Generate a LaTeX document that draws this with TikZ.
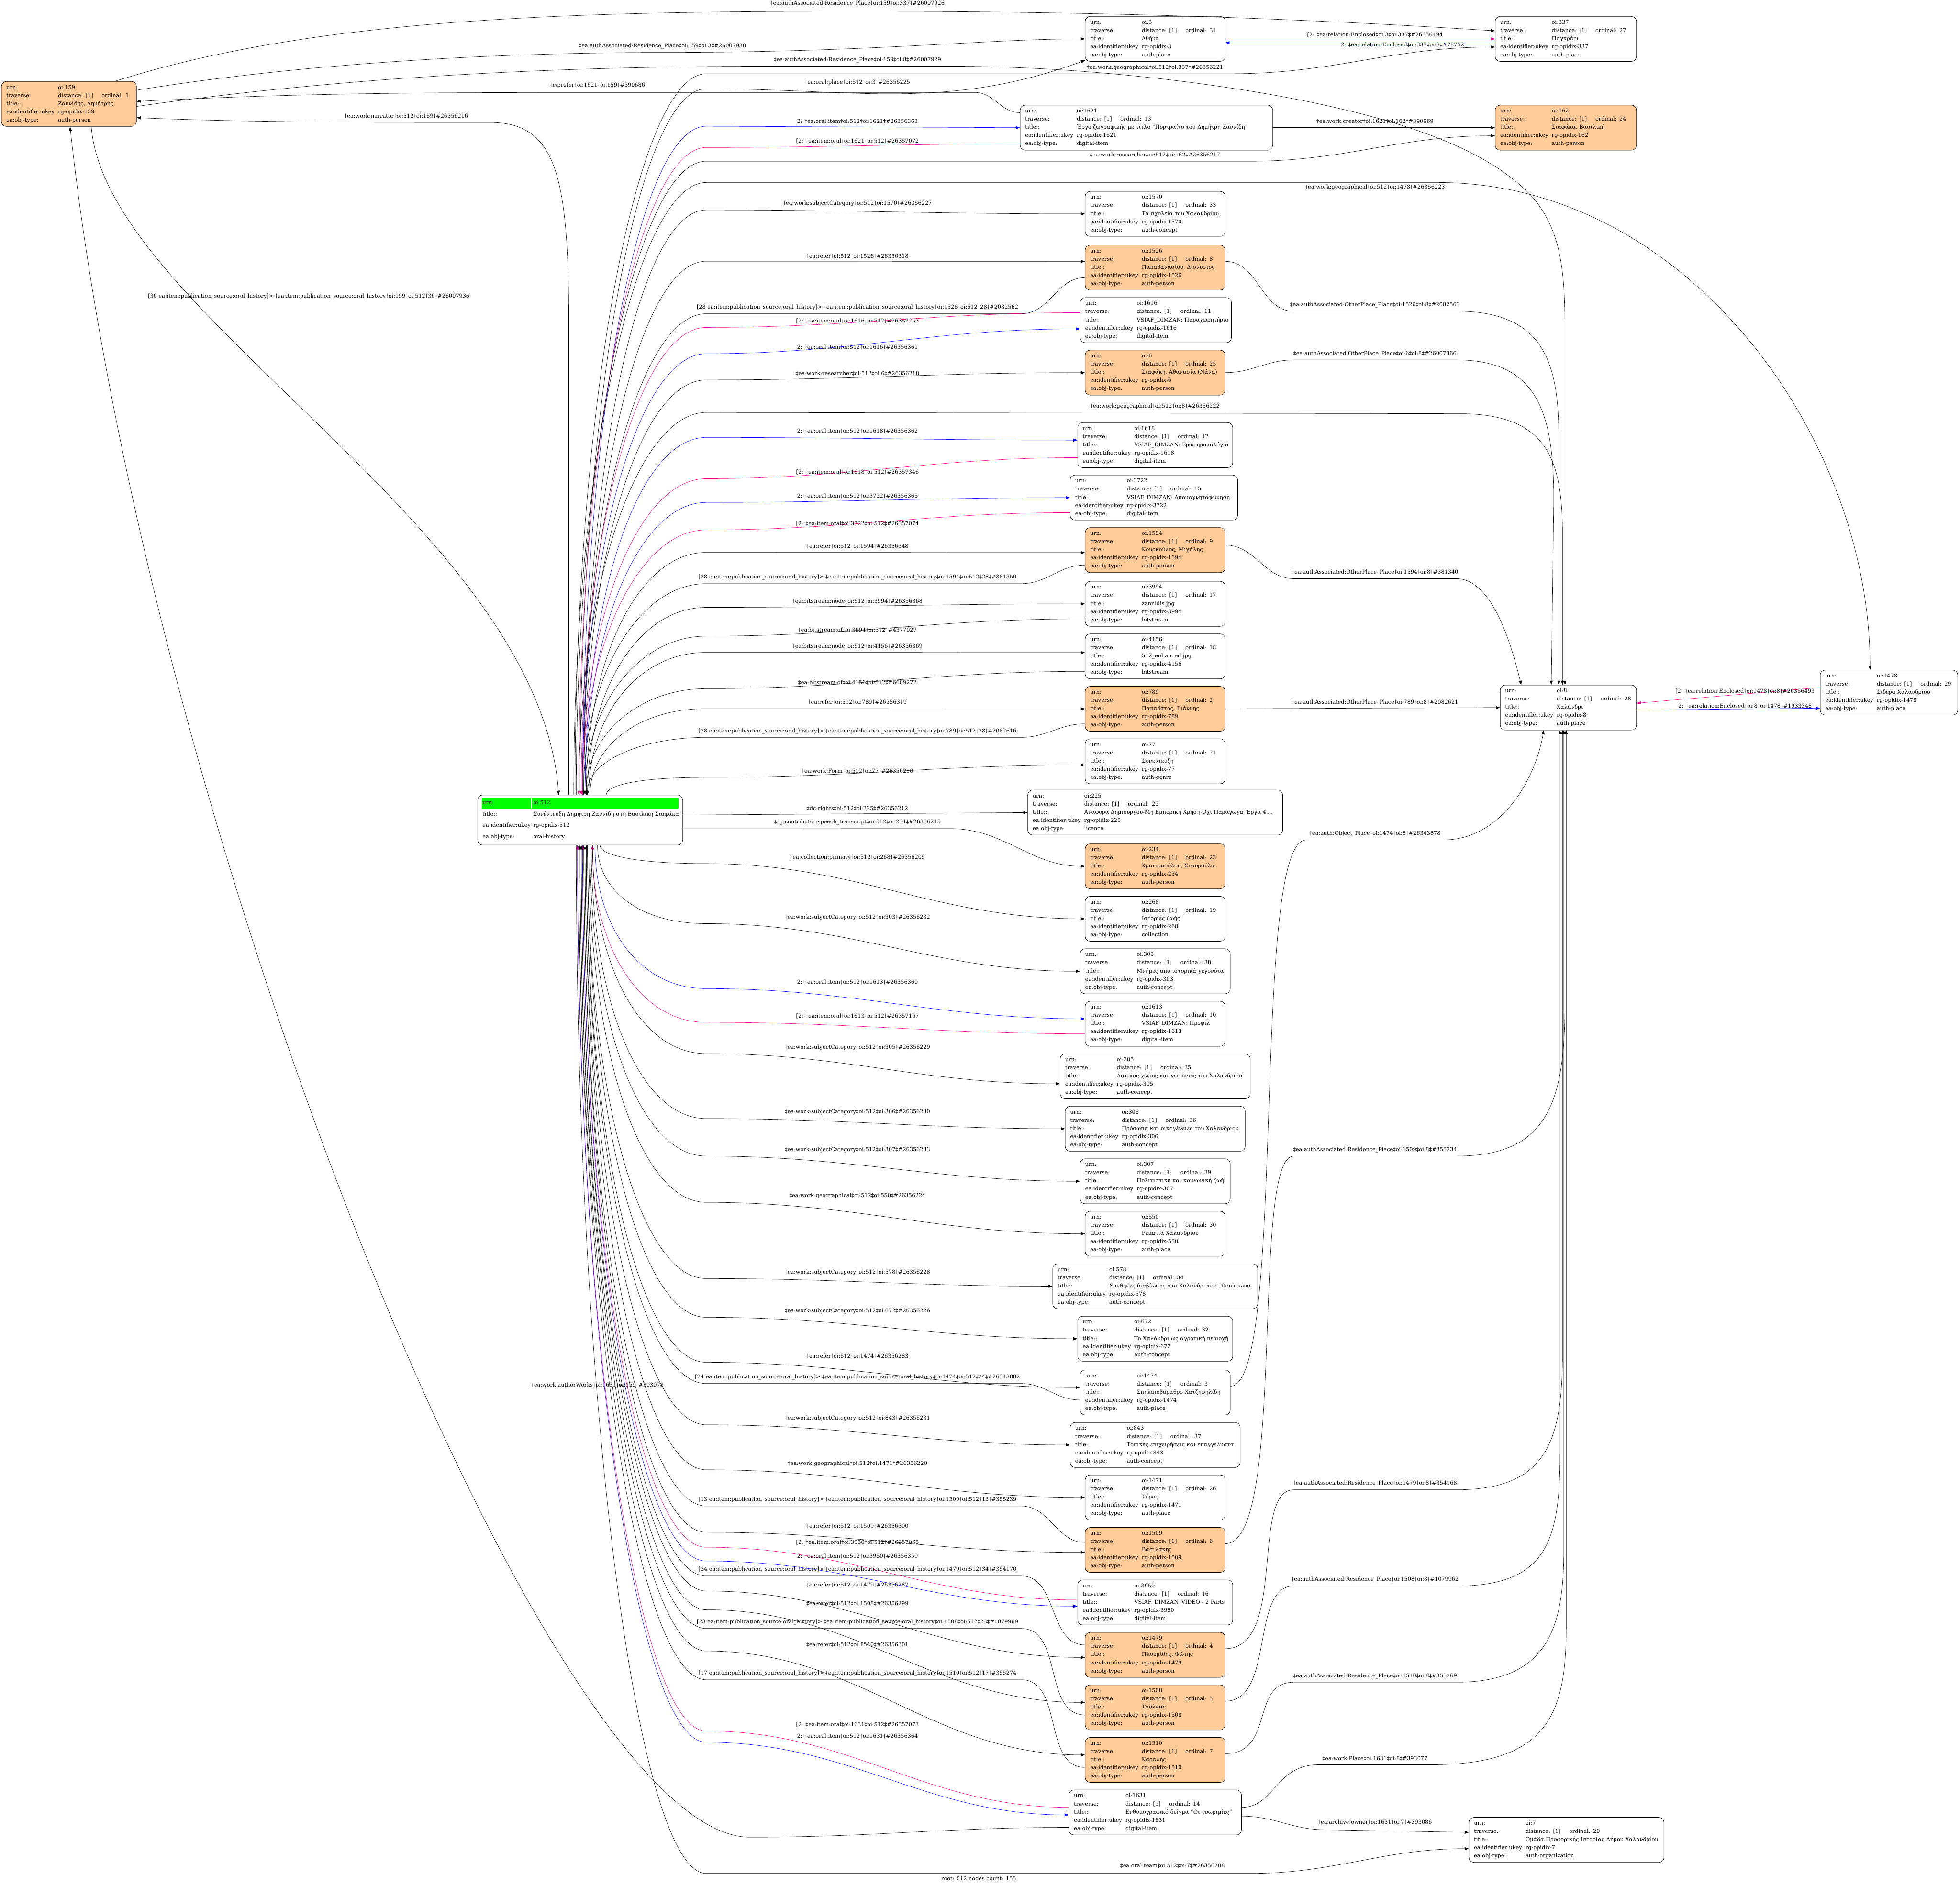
\documentclass[tikz,border=0pt]{standalone}
\usepackage{fontspec}
\setmainfont{DejaVu Serif}
\usetikzlibrary{arrows.meta,calc}
\definecolor{peach}{RGB}{255,204,153}
\newlength\cA \setlength\cA{4.375cm}
\newlength\cB \setlength\cB{3.7cm}
\newlength\cC \setlength\cC{4.3cm}
\newcommand\nrec[4]{\mbox{\makebox[\cA][l]{urn:}oi:#1}\\\mbox{\makebox[\cA][l]{traverse:}\makebox[\cB][l]{distance: [1]}ordinal: #2}\\\mbox{\makebox[\cA][l]{title::}#3}\\\mbox{\makebox[\cA][l]{ea:identifier:ukey}rg-opidix-#1}\\\mbox{\makebox[\cA][l]{ea:obj-type:}#4}}
\newcommand\Nd[6]{\node[box,#5,minimum width={#4*0.106cm},text width={#4*0.106cm-0.85cm}] (#1) at (#2,#3) {#6};}
\newcommand\Up[4]{\draw[#1] ($(n512.north west)+({#2-382},0)$) .. controls +(0,{-0.55*(636-#3)}) and +(-55,0) .. (565,#3) #4;}
\newcommand\Dn[4]{\draw[#1] ($(n512.south west)+({#2-382},0)$) .. controls +(0,{0.55*(#3-676)}) and +(-55,0) .. (565,#3) #4;}
\newcommand\Lb[4]{\node[lbl] (#1) at (#2,#3) {#4};}
\newcommand\OH[3]{[#1 ea:item:publication\_source:oral\_history]> ‡ea:item:publication\_source:oral\_history‡oi:#2‡oi:512‡#1‡\##3}
\tikzset{
 box/.style={draw, rounded corners=0.42cm, anchor=north west, inner xsep=0.425cm, inner ysep=0.05cm, align=left, font=\fontsize{13}{19.7}\selectfont, line width=0.9pt, fill=white, minimum height={36*0.106cm}},
 pers/.style={fill=peach},
 lbl/.style={font=\fontsize{13}{14}\selectfont, inner sep=0pt},
 ed/.style={line width=0.8pt},
 fwd/.style={ed,-{Triangle[length=0.35cm,width=0.25cm]}},
 rev/.style={ed,{Triangle[length=0.35cm,width=0.25cm]}-},
 blu/.style={draw=blue},
 mag/.style={draw=magenta},
}
\begin{document}
\begin{tikzpicture}[x=0.106cm,y=-0.106cm]
\fill[white] (0,0) rectangle (1568,1509);
\useasboundingbox (0,0) rectangle (1568,1509);
% ---------- nodes ----------
\Nd{n159}{1}{65}{108}{pers}{\nrec{159}{1}{Ζαννίδης, Δημήτρης}{auth-person}}
\Nd{n3}{868}{13}{112}{}{\nrec{3}{31}{Αθήνα}{auth-place}}
\Nd{n337}{1196}{13}{113}{}{\nrec{337}{27}{Παγκράτι}{auth-place}}
\Nd{n1621}{816}{84}{202}{}{\nrec{1621}{13}{Έργο ζωγραφικής με τίτλο "Πορτραίτο του Δημήτρη Ζαννίδη"}{digital-item}}
\Nd{n162}{1196}{84}{113}{pers}{\nrec{162}{24}{Σιαφάκα, Βασιλική}{auth-person}}
\Nd{n1570}{868}{153}{112}{}{\nrec{1570}{33}{Τα σχολεία του Χαλανδρίου}{auth-concept}}
\Nd{n1526}{868}{196}{112}{pers}{\nrec{1526}{8}{Παπαθανασίου, Διονύσιος}{auth-person}}
\Nd{n1616}{864}{238}{121}{}{\nrec{1616}{11}{VSIAF\_DIMZAN: Παραχωρητήριο}{digital-item}}
\Nd{n6}{868}{280}{112}{pers}{\nrec{6}{25}{Σιαφάκη, Αθανασία (Νάνα)}{auth-person}}
\Nd{n1618}{862}{338}{124}{}{\nrec{1618}{12}{VSIAF\_DIMZAN: Ερωτηματολόγιο}{digital-item}}
\Nd{n3722}{856}{380}{134}{}{\nrec{3722}{15}{VSIAF\_DIMZAN: Απομαγνητοφώνηση}{digital-item}}
\Nd{n1594}{868}{422}{112}{pers}{\nrec{1594}{9}{Κουρκούλος, Μιχάλης}{auth-person}}
\Nd{n3994}{868}{465}{112}{}{\nrec{3994}{17}{zannidis.jpg}{bitstream}}
\Nd{n4156}{868}{507}{112}{}{\nrec{4156}{18}{512\_enhanced.jpg}{bitstream}}
\Nd{n789}{868}{549}{112}{pers}{\nrec{789}{2}{Παπαδάτος, Γιάννης}{auth-person}}
\Nd{n77}{868}{591}{112}{}{\nrec{77}{21}{Συνέντευξη}{auth-genre}}
\Nd{n225}{822}{632}{204}{}{\nrec{225}{22}{Αναφορά Δημιουργού-Μη Εμπορική Χρήση-Όχι Παράγωγα \char"27Εργα 4....}{licence}}
\Nd{n234}{868}{675}{112}{pers}{\nrec{234}{23}{Χριστοπούλου, Σταυρούλα}{auth-person}}
\Nd{n268}{868}{717}{112}{}{\nrec{268}{19}{Ιστορίες ζωής}{collection}}
\Nd{n303}{864}{759}{120}{}{\nrec{303}{38}{Μνήμες από ιστορικά γεγονότα}{auth-concept}}
\Nd{n1613}{868}{801}{112}{}{\nrec{1613}{10}{VSIAF\_DIMZAN: Προφίλ}{digital-item}}
\Nd{n305}{848}{843}{152}{}{\nrec{305}{35}{Αστικός χώρος και γειτονιές του Χαλανδρίου}{auth-concept}}
\Nd{n306}{852}{885}{144}{}{\nrec{306}{36}{Πρόσωπα και οικογένειες του Χαλανδρίου}{auth-concept}}
\Nd{n307}{864}{927}{120}{}{\nrec{307}{39}{Πολιτιστική και κοινωνική ζωή}{auth-concept}}
\Nd{n550}{868}{969}{112}{}{\nrec{550}{30}{Ρεματιά Χαλανδρίου}{auth-place}}
\Nd{n578}{842}{1011}{164}{}{\nrec{578}{34}{Συνθήκες διαβίωσης στο Χαλάνδρι του 20ου αιώνα}{auth-concept}}
\Nd{n672}{862}{1053}{124}{}{\nrec{672}{32}{Το Χαλάνδρι ως αγροτική περιοχή}{auth-concept}}
\Nd{n1474}{864}{1096}{120}{}{\nrec{1474}{3}{Σπηλαιοβάραθρο Χατζηφηλίδη}{auth-place}}
\Nd{n843}{856}{1138}{136}{}{\nrec{843}{37}{Τοπικές επιχειρήσεις και επαγγέλματα}{auth-concept}}
\Nd{n1471}{868}{1180}{112}{}{\nrec{1471}{26}{Σύρος}{auth-place}}
\Nd{n1509}{868}{1222}{112}{pers}{\nrec{1509}{6}{Βασιλάκης}{auth-person}}
\Nd{n3950}{862}{1264}{124}{}{\nrec{3950}{16}{VSIAF\_DIMZAN\_VIDEO - 2 Parts}{digital-item}}
\Nd{n1479}{868}{1306}{112}{pers}{\nrec{1479}{4}{Πλουμίδης, Φώτης}{auth-person}}
\Nd{n1508}{868}{1348}{112}{pers}{\nrec{1508}{5}{Τσόλκας}{auth-person}}
\Nd{n1510}{868}{1390}{112}{pers}{\nrec{1510}{7}{Καραλής}{auth-person}}
\Nd{n1631}{855}{1432}{138}{}{\nrec{1631}{14}{Ενθυμογραφικό δείγμα "Οι γνωριμίες"}{digital-item}}
\Nd{n7}{1175}{1454}{156}{}{\nrec{7}{20}{Ομάδα Προφορικής Ιστορίας Δήμου Χαλανδρίου}{auth-organization}}
\Nd{n8}{1200}{548}{109}{}{\nrec{8}{28}{Χαλάνδρι}{auth-place}}
\Nd{n1478}{1456}{536}{110}{}{\nrec{1478}{29}{Σίδερα Χαλανδρίου}{auth-place}}
\fill[green] (385.3,638.7) rectangle (425,647);
\fill[green] (425.7,638.7) rectangle (543,647);
\node[box, fill=none, font=\fontsize{13}{27}\selectfont, inner xsep=0.41cm, minimum width={164*0.106cm}, text width={164*0.106cm-0.82cm}, minimum height={40*0.106cm}] (n512) at (382,636) {\mbox{\makebox[\cC][l]{urn:}oi:512}\\\mbox{\makebox[\cC][l]{title::}Συνέντευξη Δημήτρη Ζαννίδη στη Βασιλική Σιαφάκα}\\\mbox{\makebox[\cC][l]{ea:identifier:ukey}rg-opidix-512}\\\mbox{\makebox[\cC][l]{ea:obj-type:}oral-history}};
\node[font=\fontsize{13}{14}\selectfont, inner sep=0pt] (foot) at (783,1503) {root: 512 nodes count: 155};
% ---------- edges around oi:159 ----------
\draw[fwd] ($(n159.north west)+(91,0)$) .. controls (250,15) and (450,9) .. (686,9) .. controls (950,9) and (1120,20) .. ($(n337.west)+(0,-6.5)$);
\Lb{l1}{686}{3}{‡ea:authAssociated:Residence\_Place‡oi:159‡oi:337‡\#26007926}
\draw[fwd] ($(n159.east)+(0,-11)$) .. controls (260,48) and (420,42) .. (530,42) .. controls (700,42) and (790,31) .. (n3.west);
\Lb{l2}{530}{37}{‡ea:authAssociated:Residence\_Place‡oi:159‡oi:3‡\#26007930}
\draw[rev] ($(n159.east)+(0,-2)$) .. controls (250,74) and (350,74) .. (478,74) -- (780,74) to[out=0,in=180] ($(n1621.west)+(0,-12)$);
\Lb{l3}{478}{68}{‡ea:refer‡oi:1621‡oi:159‡\#390686}
\draw[fwd] ($(n159.east)+(0,2)$) .. controls (300,58) and (480,53) .. (618,53) -- (760,53) .. controls (880,53) and (990,70) .. (1040,80) .. controls (1130,98) and (1195,122) .. (1228,160) .. controls (1250,188) and (1252,220) .. (1252,270) -- ($(n8.north west)+(52,0)$);
\Lb{l4}{686}{48}{‡ea:authAssociated:Residence\_Place‡oi:159‡oi:8‡\#26007929}
\draw[rev] ($(n159.east)+(0,11)$) .. controls (200,98) and (300,98) .. (392,98) .. controls (445,98) and (455,140) .. (455,260) -- ($(n512.north west)+(73,0)$);
\Lb{l5}{325}{93}{‡ea:work:narrator‡oi:512‡oi:159‡\#26356216}
\draw[fwd] ($(n159.south west)+(72,0)$) .. controls (85,250) and (430,420) .. ($(n512.north west)+(65,0)$);
\Lb{l6}{247}{237}{\OH{36}{159}{26007936}}
\draw[rev] ($(n159.south west)+(55,0)$) .. controls (120,680) and (440,1470) .. (600,1470) to[out=0,in=180] ($(n1631.west)+(0,12)$);
\Lb{l7}{478}{1108}{‡ea:work:authorWorks‡oi:1631‡oi:159‡\#393078}
% ---------- edges above oi:512 ----------
\Up{fwd}{460}{59}{-- (985,59) to[out=0,in=180] ($(n337.west)+(0,6.5)$)}
\Lb{l9}{924}{54}{‡ea:work:geographical‡oi:512‡oi:337‡\#26356221}
\Up{fwd}{464}{71}{to[out=0,in=200] ($(n3.south west)+(0,-1)$)}
\Lb{l10}{686}{66}{‡ea:oral:place‡oi:512‡oi:3‡\#26356225}
\Up{blu,fwd}{466}{101}{-- (n1621.west)}
\Lb{l11}{686}{97}{2: ‡ea:oral:item‡oi:512‡oi:1621‡\#26356363}
\Up{mag,rev}{463}{118}{to[out=0,in=180] ($(n1621.west)+(0,13)$)}
\Lb{l12}{686}{113}{[2: ‡ea:item:oral‡oi:1621‡oi:512‡\#26357072}
\Up{fwd}{461}{129}{-- (1000,129) to[out=0,in=180] ($(n162.west)+(0,6.5)$)}
\Lb{l13}{924}{124}{‡ea:work:researcher‡oi:512‡oi:162‡\#26356217}
\draw[fwd] (n1621.east) -- (n162.west);
\Lb{l14}{1100}{97}{‡ea:work:creator‡oi:1621‡oi:162‡\#390669}
\draw[mag,fwd] (n3.east) -- (n337.west);
\Lb{l15}{1100}{28}{[2: ‡ea:relation:Enclosed‡oi:3‡oi:337‡\#26356494}
\draw[blu,fwd] ($(n337.west)+(0,3)$) -- ($(n3.east)+(0,3)$);
\Lb{l16}{1122}{36}{2: ‡ea:relation:Enclosed‡oi:337‡oi:3‡\#78752}
\Up{fwd}{459}{146}{-- (1150,146) .. controls (1350,146) and (1496,350) .. ($(n1478.north west)+(40,0)$)}
\Lb{l17}{1100}{150}{‡ea:work:geographical‡oi:512‡oi:1478‡\#26356223}
\Up{fwd}{467}{168}{to[out=0,in=180] (n1570.west)}
\Lb{l18}{686}{163}{‡ea:work:subjectCategory‡oi:512‡oi:1570‡\#26356227}
\Up{fwd}{467}{209}{to[out=0,in=180] ($(n1526.west)+(0,-5)$)}
\Lb{l19}{686}{205}{‡ea:refer‡oi:512‡oi:1526‡\#26356318}
\Up{rev}{466}{251}{-- (817,251) to[out=0,in=180] ($(n1526.west)+(0,8)$)}
\Lb{l20}{686}{246}{\OH{28}{1526}{2082562}}
\Up{mag,rev}{465}{262}{to[out=0,in=180] ($(n1616.west)+(0,-6)$)}
\Lb{l22}{686}{257}{[2: ‡ea:item:oral‡oi:1616‡oi:512‡\#26357253}
\Up{blu,fwd}{466}{283}{to[out=0,in=180] ($(n1616.west)+(0,7)$)}
\Lb{l23}{686}{278}{2: ‡ea:oral:item‡oi:512‡oi:1616‡\#26356361}
\Up{fwd}{467}{304}{to[out=0,in=180] (n6.west)}
\Lb{l24}{686}{299}{‡ea:work:researcher‡oi:512‡oi:6‡\#26356218}
\Up{fwd}{463}{330}{-- (1170,331) .. controls (1240,332) and (1250,370) .. (1250,430) -- ($(n8.north west)+(50,0)$)}
\Lb{l26}{924}{325}{‡ea:work:geographical‡oi:512‡oi:8‡\#26356222}
\Up{blu,fwd}{468}{350}{to[out=0,in=180] ($(n1618.west)+(0,-4)$)}
\Lb{l27}{686}{345}{2: ‡ea:oral:item‡oi:512‡oi:1618‡\#26356362}
\Up{mag,rev}{466}{383}{to[out=0,in=180] ($(n1618.west)+(0,10)$)}
\Lb{l28}{686}{378}{[2: ‡ea:item:oral‡oi:1618‡oi:512‡\#26357346}
\Up{blu,fwd}{468}{402}{to[out=0,in=180] (n3722.west)}
\Lb{l29}{686}{397}{2: ‡ea:oral:item‡oi:512‡oi:3722‡\#26356365}
\Up{mag,rev}{466}{424}{to[out=0,in=180] ($(n3722.west)+(0,12)$)}
\Lb{l30}{686}{419}{[2: ‡ea:item:oral‡oi:3722‡oi:512‡\#26357074}
\Up{fwd}{469}{442}{to[out=0,in=180] ($(n1594.west)+(0,2)$)}
\Lb{l31}{686}{437}{‡ea:refer‡oi:512‡oi:1594‡\#26356348}
\Up{rev}{467}{467}{-- (817,467) to[out=0,in=180] ($(n1594.west)+(0,12)$)}
\Lb{l32}{686}{462}{\OH{28}{1594}{381350}}
\Up{fwd}{470}{486}{to[out=0,in=180] (n3994.west)}
\Lb{l34}{686}{481}{‡ea:bitstream:node‡oi:512‡oi:3994‡\#26356368}
\Up{rev}{468}{509}{to[out=0,in=180] ($(n3994.west)+(0,12)$)}
\Lb{l35}{686}{504}{‡ea:bitstream:of‡oi:3994‡oi:512‡\#4377027}
\Up{fwd}{471}{522}{to[out=0,in=180] ($(n4156.west)+(0,-3)$)}
\Lb{l36}{686}{517}{‡ea:bitstream:node‡oi:512‡oi:4156‡\#26356369}
\Up{rev}{469}{551}{to[out=0,in=180] ($(n4156.west)+(0,12)$)}
\Lb{l37}{686}{546}{‡ea:bitstream:of‡oi:4156‡oi:512‡\#6609272}
\Up{fwd}{472}{567}{-- (n789.west)}
\Lb{l38}{686}{562}{‡ea:refer‡oi:512‡oi:789‡\#26356319}
\Up{rev}{470}{590}{-- (817,590) to[out=0,in=180] ($(n789.west)+(0,12)$)}
\Lb{l39}{686}{585}{\OH{28}{789}{2082616}}
\Up{fwd}{485}{622}{to[out=0,in=180] ($(n77.west)+(0,3)$)}
\Lb{l41}{686}{617}{‡ea:work:Form‡oi:512‡oi:77‡\#26356210}
\draw[fwd] ($(n512.east)+(0,-4)$) -- (n225.west);
\Lb{l42}{686}{647}{‡dc:rights‡oi:512‡oi:225‡\#26356212}
\draw[fwd] ($(n512.east)+(0,7)$) -- (760,663) to[out=0,in=180] (n234.west);
\Lb{l43}{686}{658}{‡rg:contributor:speech\_transcript‡oi:512‡oi:234‡\#26356215}
% ---------- edges below oi:512 ----------
\Dn{fwd}{480}{691}{to[out=0,in=180] (n268.west)}
\Lb{l45}{686}{686}{‡ea:collection:primary‡oi:512‡oi:268‡\#26356205}
\Dn{fwd}{478}{739}{to[out=0,in=180] (n303.west)}
\Lb{l46}{686}{734}{‡ea:work:subjectCategory‡oi:512‡oi:303‡\#26356232}
\Dn{blu,fwd}{476}{791}{to[out=0,in=180] ($(n1613.west)+(0,-4)$)}
\Lb{l47}{686}{786}{2: ‡ea:oral:item‡oi:512‡oi:1613‡\#26356360}
\Dn{mag,rev}{474}{818}{to[out=0,in=180] ($(n1613.west)+(0,8)$)}
\Lb{l48}{686}{813}{[2: ‡ea:item:oral‡oi:1613‡oi:512‡\#26357167}
\Dn{fwd}{474}{843}{to[out=0,in=180] ($(n305.west)+(0,6)$)}
\Lb{l49}{686}{838}{‡ea:work:subjectCategory‡oi:512‡oi:305‡\#26356229}
\Dn{fwd}{473}{895}{to[out=0,in=180] (n306.west)}
\Lb{l50}{686}{890}{‡ea:work:subjectCategory‡oi:512‡oi:306‡\#26356230}
\Dn{fwd}{472}{925}{to[out=0,in=180] (n307.west)}
\Lb{l51}{686}{920}{‡ea:work:subjectCategory‡oi:512‡oi:307‡\#26356233}
\Dn{fwd}{471}{962}{to[out=0,in=180] (n550.west)}
\Lb{l52}{686}{957}{‡ea:work:geographical‡oi:512‡oi:550‡\#26356224}
\Dn{fwd}{470}{1023}{to[out=0,in=180] (n578.west)}
\Lb{l53}{686}{1018}{‡ea:work:subjectCategory‡oi:512‡oi:578‡\#26356228}
\Dn{fwd}{470}{1054}{to[out=0,in=180] (n672.west)}
\Lb{l54}{686}{1049}{‡ea:work:subjectCategory‡oi:512‡oi:672‡\#26356226}
\Dn{fwd}{469}{1090}{to[out=0,in=180] ($(n1474.west)+(0,-4)$)}
\Lb{l55}{686}{1085}{‡ea:refer‡oi:512‡oi:1474‡\#26356283}
\Dn{rev}{469}{1107}{-- (817,1107) to[out=0,in=180] ($(n1474.west)+(0,6)$)}
\Lb{l56}{686}{1102}{\OH{24}{1474}{26343882}}
\Dn{fwd}{468}{1140}{to[out=0,in=180] (n843.west)}
\Lb{l57}{686}{1135}{‡ea:work:subjectCategory‡oi:512‡oi:843‡\#26356231}
\Dn{fwd}{468}{1176}{to[out=0,in=180] (n1471.west)}
\Lb{l58}{686}{1171}{‡ea:work:geographical‡oi:512‡oi:1471‡\#26356220}
\Dn{rev}{467}{1205}{-- (817,1205) to[out=0,in=180] ($(n1509.west)+(0,-6)$)}
\Lb{l59}{686}{1200}{\OH{13}{1509}{355239}}
\Dn{fwd}{467}{1226}{to[out=0,in=180] ($(n1509.west)+(0,2)$)}
\Lb{l60}{686}{1221}{‡ea:refer‡oi:512‡oi:1509‡\#26356300}
\Dn{mag,rev}{466}{1238}{to[out=0,in=180] ($(n3950.west)+(0,-2)$)}
\Lb{l61}{686}{1234}{[2: ‡ea:item:oral‡oi:3950‡oi:512‡\#26357068}
\Dn{blu,fwd}{466}{1249}{to[out=0,in=180] ($(n3950.west)+(0,3)$)}
\Lb{l62}{686}{1245}{2: ‡ea:oral:item‡oi:512‡oi:3950‡\#26356359}
\Dn{rev}{465}{1261}{-- (817,1261) to[out=0,in=180] ($(n1479.west)+(0,-8)$)}
\Lb{l63}{686}{1256}{\OH{34}{1479}{354170}}
\Dn{fwd}{465}{1273}{to[out=0,in=180] ($(n1479.west)+(0,2)$)}
\Lb{l64}{686}{1268}{‡ea:refer‡oi:512‡oi:1479‡\#26356287}
\Dn{fwd}{464}{1288}{to[out=0,in=180] ($(n1508.west)+(0,-4)$)}
\Lb{l65}{686}{1283}{‡ea:refer‡oi:512‡oi:1508‡\#26356299}
\Dn{rev}{464}{1303}{-- (817,1303) to[out=0,in=180] ($(n1508.west)+(0,6)$)}
\Lb{l66}{686}{1298}{\OH{23}{1508}{1079969}}
\Dn{fwd}{463}{1321}{to[out=0,in=180] ($(n1510.west)+(0,-4)$)}
\Lb{l67}{686}{1316}{‡ea:refer‡oi:512‡oi:1510‡\#26356301}
\Dn{rev}{463}{1344}{-- (817,1344) to[out=0,in=180] ($(n1510.west)+(0,6)$)}
\Lb{l68}{686}{1339}{\OH{17}{1510}{355274}}
\Dn{mag,rev}{462}{1385}{to[out=0,in=180] ($(n1631.west)+(0,-4)$)}
\Lb{l69}{686}{1380}{[2: ‡ea:item:oral‡oi:1631‡oi:512‡\#26357073}
\Dn{blu,fwd}{462}{1394}{to[out=0,in=180] ($(n1631.west)+(0,2)$)}
\Lb{l70}{686}{1389}{2: ‡ea:oral:item‡oi:512‡oi:1631‡\#26356364}
\Dn{fwd}{461}{1499}{-- (1000,1499) to[out=0,in=180] ($(n7.west)+(0,7)$)}
\Lb{l8}{938}{1493}{‡ea:oral:team‡oi:512‡oi:7‡\#26356208}
% ---------- right side ----------
\draw[fwd] ($(n1526.east)+(0,-5)$) to[out=0,in=180] (1035,249) -- (1165,249) .. controls (1235,249) and (1247,290) .. (1247,350) -- ($(n8.north west)+(47,0)$);
\Lb{l21}{1100}{244}{‡ea:authAssociated:OtherPlace\_Place‡oi:1526‡oi:8‡\#2082563}
\draw[fwd] (n6.east) to[out=0,in=180] (1035,288) -- (1165,288) .. controls (1230,288) and (1243,330) .. (1243,400) -- ($(n8.north west)+(41,0)$);
\Lb{l25}{1100}{283}{‡ea:authAssociated:OtherPlace\_Place‡oi:6‡oi:8‡\#26007366}
\draw[fwd] ($(n1594.east)+(0,-4)$) to[out=0,in=180] (1035,463) -- (1165,463) .. controls (1195,463) and (1210,520) .. ($(n8.north west)+(17,0)$);
\Lb{l33}{1100}{458}{‡ea:authAssociated:OtherPlace\_Place‡oi:1594‡oi:8‡\#381340}
\draw[fwd] (n789.east) -- (n8.west);
\Lb{l40}{1100}{562}{‡ea:authAssociated:OtherPlace\_Place‡oi:789‡oi:8‡\#2082621}
\draw[fwd] ($(n1474.east)+(0,-5)$) .. controls (1030,1109) and (1000,672) .. (1045,672) -- (1155,672) .. controls (1200,672) and (1228,625) .. ($(n8.south west)+(35,0)$);
\Lb{l44}{1100}{667}{‡ea:auth:Object\_Place‡oi:1474‡oi:8‡\#26343878}
\draw[fwd] ($(n1509.east)+(0,-5)$) .. controls (1030,1235) and (1000,925) .. (1035,925) -- (1165,925) .. controls (1240,925) and (1252,880) .. (1252,800) -- ($(n8.south west)+(52,0)$);
\Lb{l71}{1100}{920}{‡ea:authAssociated:Residence\_Place‡oi:1509‡oi:8‡\#355234}
\draw[fwd] ($(n1479.east)+(0,-5)$) .. controls (1030,1319) and (1000,1192) .. (1035,1192) -- (1165,1192) .. controls (1240,1192) and (1250,1150) .. (1250,1080) -- ($(n8.south west)+(50,0)$);
\Lb{l72}{1100}{1187}{‡ea:authAssociated:Residence\_Place‡oi:1479‡oi:8‡\#354168}
\draw[fwd] ($(n1508.east)+(0,-5)$) .. controls (1020,1361) and (1000,1269) .. (1035,1269) -- (1165,1269) .. controls (1240,1269) and (1248,1230) .. (1248,1160) -- ($(n8.south west)+(48,0)$);
\Lb{l73}{1100}{1264}{‡ea:authAssociated:Residence\_Place‡oi:1508‡oi:8‡\#1079962}
\draw[fwd] ($(n1510.east)+(0,-5)$) .. controls (1020,1403) and (1000,1346) .. (1035,1346) -- (1165,1346) .. controls (1240,1346) and (1251,1300) .. (1251,1240) -- ($(n8.south west)+(51,0)$);
\Lb{l74}{1100}{1341}{‡ea:authAssociated:Residence\_Place‡oi:1510‡oi:8‡\#355269}
\draw[fwd] ($(n1631.east)+(0,-4)$) .. controls (1020,1446) and (1020,1412) .. (1055,1412) -- (1145,1412) .. controls (1240,1412) and (1253,1370) .. (1253,1300) -- ($(n8.south west)+(53,0)$);
\Lb{l75}{1100}{1407}{‡ea:work:Place‡oi:1631‡oi:8‡\#393077}
\draw[fwd] ($(n1631.east)+(0,3)$) to[out=0,in=180] (1060,1464) -- ($(n7.west)+(0,-6)$);
\Lb{l76}{1100}{1458}{‡ea:archive:owner‡oi:1631‡oi:7‡\#393086}
\draw[mag,fwd] ($(n1478.west)+(0,-4)$) -- ($(n8.east)+(0,-3.5)$);
\Lb{l77}{1396}{553}{[2: ‡ea:relation:Enclosed‡oi:1478‡oi:8‡\#26356493}
\draw[blu,fwd] ($(n8.east)+(0,2)$) -- ($(n1478.west)+(0,12.5)$);
\Lb{l78}{1396}{565}{2: ‡ea:relation:Enclosed‡oi:8‡oi:1478‡\#1933348}
\end{tikzpicture}
\end{document}
